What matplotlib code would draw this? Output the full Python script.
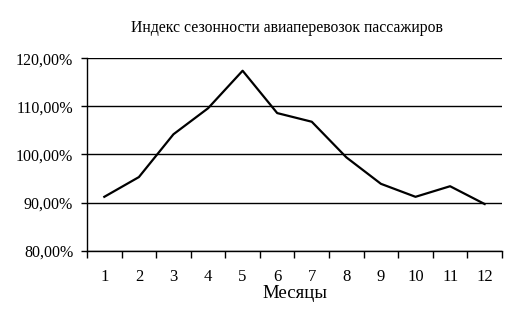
import matplotlib
matplotlib.use("Agg")
import matplotlib.pyplot as plt
from matplotlib.ticker import FixedLocator, FuncFormatter
import numpy as np

months = list(range(1, 13))
index_values = [91.2, 95.3, 104.2, 109.6, 117.4, 108.6, 106.8, 99.4, 93.9, 91.2, 93.4, 89.7]
y_ticks = [80, 90, 100, 110, 120]

plt.rcParams['font.family'] = ['Liberation Serif', 'DejaVu Serif']

fig = plt.figure(figsize=(5.18, 3.13), dpi=100)
ax = fig.add_axes([0.168, 0.199, 0.801, 0.615])

ax.plot(months, index_values, color='black', linewidth=1.6)

ax.set_xlim(0.5, 12.5)
ax.set_ylim(80, 120)
ax.set_yticks(y_ticks)
ax.yaxis.set_major_formatter(FuncFormatter(lambda v, p: f"{v:.2f}%".replace('.', ',')))
ax.set_xticks(months)
ax.set_xticklabels([str(m) for m in months])
ax.xaxis.set_minor_locator(FixedLocator(np.arange(0.5, 13, 1)))
ax.tick_params(axis='x', which='major', length=0, pad=13, labelsize=12)
ax.tick_params(axis='x', which='minor', length=5, width=1, direction='out')
ax.tick_params(axis='y', which='major', length=4, width=1, direction='out', labelsize=11.5, pad=6)

ax.grid(axis='y', color='black', linewidth=1)
ax.set_axisbelow(True)
for s in ['top', 'right']:
    ax.spines[s].set_visible(False)
for s in ['left', 'bottom']:
    ax.spines[s].set_linewidth(1)

ax.set_xlabel("Месяцы", fontsize=13.5, labelpad=0)
fig.text(0.554, 0.912, "Индекс сезонности авиаперевозок пассажиров", ha='center', va='center', fontsize=11.3)

fig.savefig("out.png", dpi=100)
